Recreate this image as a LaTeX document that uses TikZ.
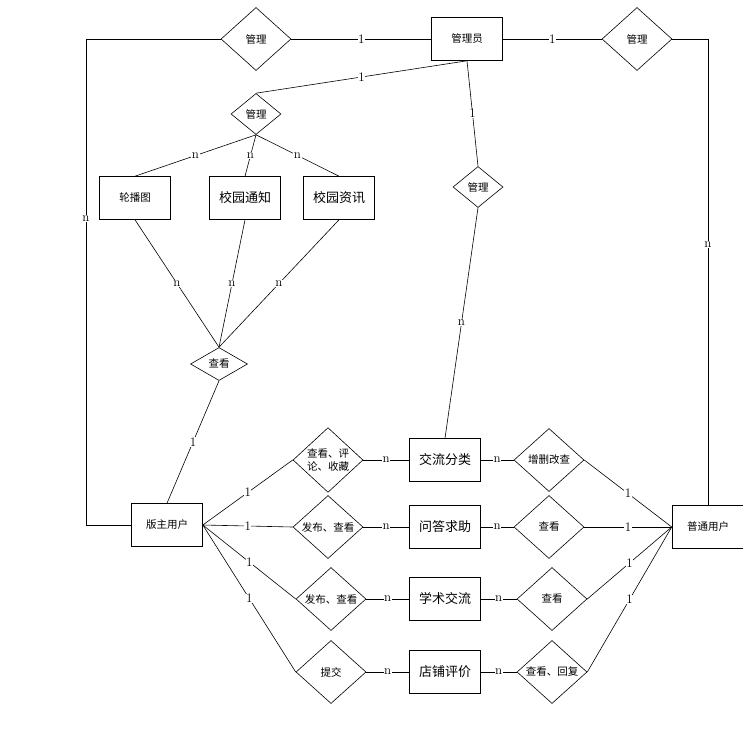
\documentclass[tikz,border=0pt]{standalone}
\usepackage{fontspec}
\usepackage{tikz}
\usetikzlibrary{shapes.geometric}
\newfontfamily\cjk{Noto Sans CJK SC}
\tikzstyle{entity}=[draw,fill=white,rectangle,minimum width=71pt,minimum height=43pt,inner sep=0pt,font=\cjk\fontsize{10.5}{12}\selectfont]
\tikzstyle{bigtext}=[font=\cjk\fontsize{13}{15}\selectfont]
\tikzstyle{rel}=[draw,fill=white,diamond,minimum width=70pt,minimum height=63pt,inner sep=0pt,align=center,font=\cjk\fontsize{10.5}{13}\selectfont]
\tikzstyle{srel}=[rel,minimum width=50pt,minimum height=41pt]
\tikzstyle{card}=[fill=white,inner sep=0.5pt,font=\fontsize{13}{14}\selectfont]

\begin{document}
\begin{tikzpicture}[x=1pt,y=-1pt,line width=0.6pt]
  \useasboundingbox (0,0) rectangle (743,731);
  % administrator and what it manages
  \node[entity] (gly) at (467,39) {管理员};
  \node[rel] (gl1) at (256,39) {管理};
  \node[rel] (gl2) at (637,39) {管理};
  \node[srel] (gl3) at (256,114) {管理};
  \node[srel] (gl4) at (478,187) {管理};
  \node[entity] (lbt) at (135,198) {轮播图};
  \node[entity,bigtext] (xytz) at (245,198) {校园通知};
  \node[entity,bigtext] (xyzx) at (339,198) {校园资讯};
  \node[rel,minimum width=57pt,minimum height=33pt] (ck0) at (219,364) {查看};
  % users
  \node[entity] (bz) at (167,525) {版主用户};
  \node[entity,minimum width=72pt] (pt) at (708,527) {普通用户};
  % middle rows
  \node[rel] (r1) at (328,460) {查看、评\\论、收藏};
  \node[rel] (r2) at (328,527) {发布、查看};
  \node[rel] (r3) at (331,599) {发布、查看};
  \node[rel] (r4) at (331,672) {提交};
  \node[entity,bigtext] (jlfl) at (445,460) {交流分类};
  \node[entity,bigtext] (wdqz) at (445,527) {问答求助};
  \node[entity,bigtext] (xsjl) at (445,599) {学术交流};
  \node[entity,bigtext] (dppj) at (445,672) {店铺评价};
  \node[rel] (s1) at (549,460) {增删改查};
  \node[rel] (s2) at (549,527) {查看};
  \node[rel] (s3) at (552,599) {查看};
  \node[rel] (s4) at (552,672) {查看、回复};
  \coordinate (lc1) at (86,39);
  \coordinate (lc2) at (86,525);

  \draw (gly.west) -- node[card]{1} (gl1.east);
  \draw (gl1.west) -- (lc1) -- node[card,pos=0.37]{n} (lc2) -- (bz.west);
  \draw (gly.east) -- node[card]{1} (gl2.west);
  \draw (gl2.east) -| node[card,pos=0.72]{n} (pt.north);
  \draw (gly.south) -- node[card]{1} (gl3.north);
  \draw (gly.south) -- node[card]{1} (gl4.north);
  \draw (gl4.south) -- node[card]{n} (jlfl.north);
  \draw (gl3.south) -- node[card]{n} (lbt.north);
  \draw (gl3.south) -- node[card]{n} (xytz.north);
  \draw (gl3.south) -- node[card]{n} (xyzx.north);
  \draw (lbt.south) -- node[card]{n} (ck0.north);
  \draw (xytz.south) -- node[card]{n} (ck0.north);
  \draw (xyzx.south) -- node[card]{n} (ck0.north);
  \draw (ck0.south) -- node[card]{1} (bz.north);

  \draw (bz.east) -- node[card]{1} (r1.west);
  \draw (bz.east) -- node[card]{1} (r2.west);
  \draw (bz.east) -- node[card]{1} (r3.west);
  \draw (bz.east) -- node[card]{1} (r4.west);
  \draw (r1.east) -- node[card]{n} (jlfl.west);
  \draw (r2.east) -- node[card]{n} (wdqz.west);
  \draw (r3.east) -- node[card]{n} (xsjl.west);
  \draw (r4.east) -- node[card]{n} (dppj.west);
  \draw (jlfl.east) -- node[card]{n} (s1.west);
  \draw (wdqz.east) -- node[card]{n} (s2.west);
  \draw (xsjl.east) -- node[card]{n} (s3.west);
  \draw (dppj.east) -- node[card]{n} (s4.west);
  \draw (s1.east) -- node[card]{1} (pt.west);
  \draw (s2.east) -- node[card]{1} (pt.west);
  \draw (s3.east) -- node[card]{1} (pt.west);
  \draw (s4.east) -- node[card]{1} (pt.west);
\end{tikzpicture}
\end{document}
